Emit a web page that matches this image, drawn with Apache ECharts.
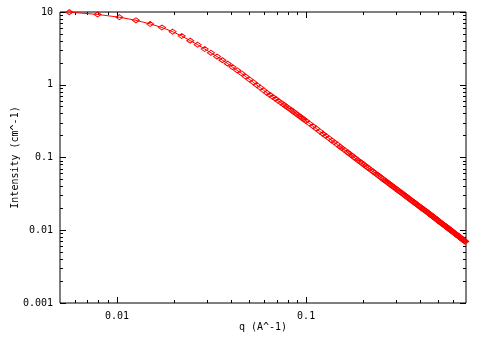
<!DOCTYPE html>
<html lang="en">
<head>
    <meta charset="UTF-8">
    <title>Intensity vs q</title>
    <script src="https://cdn.jsdelivr.net/npm/echarts@6/dist/echarts.min.js"></script>
    <style>
        * {
            margin: 0;
            padding: 0;
        }

        html, body {
            width: 100%;
            height: 100%;
            overflow: hidden;
            background: #fff;
        }

        .chart {
            width: 484px;
            height: 339px;
        }
    </style>
</head>
<body>
<div class="chart"></div>
<script>
    // q (A^-1) and intensity (cm^-1)
    let qValues = [
        0.0056, 0.0079, 0.0103, 0.0126, 0.0150, 0.0173, 0.0197, 0.0220, 0.0244, 0.0267,
        0.0291, 0.0314, 0.0338, 0.0361, 0.0385, 0.0408, 0.0432, 0.0455, 0.0479, 0.0502,
        0.0526, 0.0549, 0.0573, 0.0596, 0.0620, 0.0643, 0.0667, 0.0690, 0.0714, 0.0737,
        0.0761, 0.0784, 0.0808, 0.0831, 0.0855, 0.0878, 0.0902, 0.0925, 0.0949, 0.0972,
        0.0996,
        0.104, 0.109, 0.113, 0.118, 0.123, 0.127, 0.132, 0.137, 0.141, 0.146,
        0.151, 0.155, 0.160, 0.165, 0.169, 0.174, 0.179, 0.183, 0.188, 0.193,
        0.197, 0.202, 0.207, 0.211, 0.216, 0.221, 0.225, 0.230, 0.235, 0.239,
        0.244, 0.249, 0.253, 0.258, 0.263, 0.267, 0.272, 0.277, 0.281, 0.286,
        0.291, 0.295,
        0.300, 0.305, 0.310, 0.315, 0.320, 0.325, 0.330, 0.335, 0.340, 0.345,
        0.350, 0.355, 0.360, 0.365, 0.370, 0.375, 0.380, 0.385, 0.390, 0.395,
        0.400, 0.405, 0.410, 0.415, 0.420, 0.425, 0.430, 0.435, 0.440, 0.445,
        0.450, 0.455, 0.460, 0.465, 0.470, 0.475, 0.480, 0.485, 0.490, 0.495,
        0.500, 0.505, 0.510, 0.515, 0.520, 0.525, 0.530, 0.535, 0.540, 0.545,
        0.550, 0.555, 0.560, 0.565, 0.570, 0.575, 0.580, 0.585, 0.590, 0.595,
        0.600, 0.605, 0.610, 0.615, 0.620, 0.625, 0.630, 0.635, 0.640, 0.645,
        0.650, 0.655, 0.660, 0.665, 0.670, 0.675, 0.680, 0.685, 0.690, 0.693
    ];
    let intensity = [
        9.95, 9.25, 8.48, 7.69, 6.85, 6.12, 5.36, 4.68, 4.04, 3.55,
        3.10, 2.75, 2.44, 2.18, 1.95, 1.75, 1.58, 1.44, 1.30, 1.18,
        1.08, 0.99, 0.91, 0.84, 0.775, 0.726, 0.679, 0.639, 0.599, 0.566,
        0.533, 0.504, 0.476, 0.452, 0.428, 0.407, 0.386, 0.368, 0.351, 0.334,
        0.319,
        0.294, 0.268, 0.250, 0.229, 0.211, 0.198, 0.184, 0.171, 0.162, 0.151,
        0.141, 0.134, 0.126, 0.119, 0.113, 0.107, 0.101, 0.0968, 0.0918, 0.0872,
        0.0837, 0.0797, 0.0760, 0.0731, 0.0699, 0.0668, 0.0645, 0.0618, 0.0593, 0.0574,
        0.0551, 0.0530, 0.0514, 0.0494, 0.0476, 0.0462, 0.0446, 0.0430, 0.0418, 0.0404,
        0.0391, 0.0381,
        0.0368, 0.0356, 0.0345, 0.0335, 0.0325, 0.0315, 0.0306, 0.0297, 0.0288, 0.0280,
        0.0273, 0.0265, 0.0258, 0.0251, 0.0245, 0.0238, 0.0232, 0.0226, 0.0221, 0.0215,
        0.0210, 0.0205, 0.0200, 0.0195, 0.0191, 0.0187, 0.0183, 0.0179, 0.0175, 0.0171,
        0.0167, 0.0163, 0.0160, 0.0156, 0.0153, 0.0150, 0.0147, 0.0144, 0.0141, 0.0138,
        0.0135, 0.0132, 0.0130, 0.0127, 0.0125, 0.0122, 0.0120, 0.0118, 0.0116, 0.0114,
        0.0112, 0.0110, 0.0108, 0.0106, 0.0104, 0.0102, 0.0101, 0.00985, 0.00970, 0.00955,
        0.00940, 0.00925, 0.00910, 0.00895, 0.00880, 0.00866, 0.00852, 0.00839, 0.00826, 0.00813,
        0.00800, 0.00788, 0.00776, 0.00764, 0.00752, 0.00741, 0.00730, 0.00717, 0.00705, 0.00698
    ];

    let xMajor = [0.01, 0.1];
    let xMinor = [0.006, 0.007, 0.008, 0.009, 0.02, 0.03, 0.04, 0.05, 0.06, 0.07, 0.08, 0.09,
        0.2, 0.3, 0.4, 0.5, 0.6];
    let yMajor = [0.001, 0.01, 0.1, 1, 10];
    let yMinor = [0.002, 0.003, 0.004, 0.005, 0.006, 0.007, 0.008, 0.009,
        0.02, 0.03, 0.04, 0.05, 0.06, 0.07, 0.08, 0.09,
        0.2, 0.3, 0.4, 0.5, 0.6, 0.7, 0.8, 0.9,
        2, 3, 4, 5, 6, 7, 8, 9];

    let font = 'DejaVu Sans Mono';

    function axis(pos, ticks, len, labels, extent) {
        return {
            type: 'log',
            position: pos,
            min: extent[0],
            max: extent[1],
            axisLine: {show: false},
            splitLine: {show: false},
            axisTick: {
                inside: true,
                length: len,
                customValues: ticks,
                lineStyle: {color: '#000', width: 1}
            },
            axisLabel: {
                show: !!labels,
                customValues: labels || [],
                formatter: v => String(v),
                color: '#000',
                fontFamily: font,
                fontSize: 10,
                margin: 8
            }
        };
    }

    let xExt = [0.005, 0.7];
    let yExt = [0.001, 10];

    let xMain = axis('bottom', xMajor, 6, xMajor, xExt);
    xMain.name = 'q (A^-1)';
    xMain.nameLocation = 'middle';
    xMain.nameGap = 19;
    xMain.nameMoveOverlap = false;
    xMain.nameTextStyle = {color: '#000', fontFamily: font, fontSize: 10};

    let yMain = axis('left', yMajor, 6, yMajor, yExt);
    yMain.axisLabel.margin = 7;
    yMain.name = 'Intensity (cm^-1)';
    yMain.nameLocation = 'middle';
    yMain.nameGap = 40;
    yMain.nameMoveOverlap = false;
    yMain.nameTextStyle = {color: '#000', fontFamily: font, fontSize: 10};

    let points = qValues.map((q, i) => [q, intensity[i]]);

    let chart = echarts.init(document.querySelector('.chart'));
    chart.setOption({
        animation: false,
        backgroundColor: '#fff',
        grid: {
            left: 60,
            right: 18,
            top: 12,
            bottom: 36,
            show: true,
            borderColor: '#000',
            borderWidth: 1,
            backgroundColor: 'transparent',
            containLabel: false,
            outerBoundsMode: 'none'
        },
        xAxis: [
            xMain,
            axis('bottom', xMinor, 3, null, xExt),
            axis('top', xMajor, 6, null, xExt),
            axis('top', xMinor, 3, null, xExt)
        ],
        yAxis: [
            yMain,
            axis('left', yMinor, 3, null, yExt),
            axis('right', yMajor, 6, null, yExt),
            axis('right', yMinor, 3, null, yExt)
        ],
        series: [{
            type: 'line',
            data: points,
            xAxisIndex: 0,
            yAxisIndex: 0,
            symbol: 'diamond',
            symbolSize: [7, 5],
            showAllSymbol: true,
            lineStyle: {color: '#ff0000', width: 1},
            itemStyle: {color: 'rgba(255,255,255,0)', borderColor: '#ff0000', borderWidth: 1}
        }]
    });
</script>
</body>
</html>
